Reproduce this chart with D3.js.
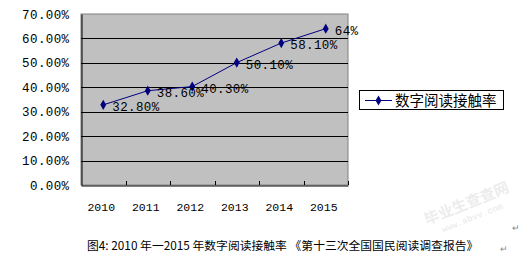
<!DOCTYPE html>
<html>
<head>
<meta charset="utf-8">
<script src="https://cdn.jsdelivr.net/npm/d3@7"></script>
<style>
  body { margin: 0; background: #fff; }
  svg { display: block; }
</style>
</head>
<body>
<svg id="chart"></svg>
<script>
// chart data
const years = ["2010", "2011", "2012", "2013", "2014", "2015"];
const rates = [32.8, 38.6, 40.3, 50.1, 58.1, 64];
const rateLabels = ["32.80%", "38.60%", "40.30%", "50.10%", "58.10%", "64%"];
const yTicks = [0, 10, 20, 30, 40, 50, 60, 70];
const seriesName = "数字阅读接触率";
const caption = "图4: 2010 年一2015 年数字阅读接触率 《第十三次全国国民阅读调查报告》";

const W = 524, H = 264;
const plot = { left: 81, top: 14, right: 348, bottom: 185 };
const mono = "'Liberation Mono', 'DejaVu Sans Mono', monospace";
const cjk = "'Noto Sans CJK SC', sans-serif";

const svg = d3.select("#chart").attr("width", W).attr("height", H);

const x = d3.scaleBand().domain(years).range([plot.left, plot.right]);
const y = d3.scaleLinear().domain([0, 70]).range([plot.bottom, plot.top]);

// plot background
svg.append("rect")
    .attr("x", plot.left).attr("y", plot.top)
    .attr("width", plot.right - plot.left).attr("height", plot.bottom - plot.top)
    .attr("fill", "#c0c0c0")
    .attr("stroke", "#808080");

// gridlines
svg.append("g")
    .selectAll("line")
    .data(yTicks.filter(d => d > 0 && d < 70))
    .enter().append("line")
    .attr("x1", plot.left).attr("x2", plot.right)
    .attr("y1", d => Math.round(y(d)) + 0.5).attr("y2", d => Math.round(y(d)) + 0.5)
    .attr("stroke", "#000");

// y axis
const yAxis = svg.append("g")
    .attr("transform", `translate(${plot.left + 0.5},0)`)
    .call(d3.axisLeft(y).tickValues(yTicks).tickSize(0).tickPadding(12)
        .tickFormat(d => d.toFixed(2) + "%"));
yAxis.select(".domain").attr("stroke", "#000");
yAxis.selectAll("text")
    .attr("font-family", mono).attr("font-size", 12.5)
    .attr("letter-spacing", 0.4)
    .attr("fill", "#000");

// x axis
const xAxis = svg.append("g")
    .attr("transform", `translate(0,${plot.bottom + 0.5})`)
    .call(d3.axisBottom(x).tickSize(0).tickPadding(17));
xAxis.select(".domain").attr("stroke", "#000");
xAxis.selectAll("text")
    .attr("font-family", mono).attr("font-size", 11.5)
    .attr("dx", -2)
    .attr("fill", "#000");

// inner tick marks between categories
svg.append("g")
    .selectAll("line")
    .data(years.slice(1).concat(["end"]))
    .enter().append("line")
    .attr("x1", (d, i) => Math.round(plot.left + x.step() * (i + 1)) + 0.5)
    .attr("x2", (d, i) => Math.round(plot.left + x.step() * (i + 1)) + 0.5)
    .attr("y1", plot.bottom).attr("y2", plot.bottom - 4)
    .attr("stroke", "#000");

// series line
const cx = (d, i) => x(years[i]) + x.bandwidth() / 2;
const line = d3.line().x(cx).y(d => y(d));
svg.append("path")
    .datum(rates)
    .attr("d", line)
    .attr("fill", "none")
    .attr("stroke", "#000080")
    .attr("stroke-width", 1);

const diamond = d3.symbol().type(d3.symbolDiamond).size(30);
svg.append("g")
    .selectAll("path")
    .data(rates)
    .enter().append("path")
    .attr("d", diamond)
    .attr("transform", (d, i) => `translate(${cx(d, i)},${y(d)})`)
    .attr("fill", "#000080");

// data labels
svg.append("g")
    .selectAll("text")
    .data(rates)
    .enter().append("text")
    .attr("x", (d, i) => cx(d, i) + 9)
    .attr("y", d => y(d) + 6)
    .attr("font-family", mono).attr("font-size", 12.5)
    .attr("letter-spacing", 0.4)
    .attr("fill", "#000")
    .text((d, i) => rateLabels[i]);

// legend
const lg = svg.append("g");
lg.append("rect")
    .attr("x", 359.5).attr("y", 90.5).attr("width", 144).attr("height", 19)
    .attr("fill", "#fff").attr("stroke", "#000");
lg.append("line")
    .attr("x1", 365).attr("x2", 392).attr("y1", 100.5).attr("y2", 100.5)
    .attr("stroke", "#000080");
lg.append("path")
    .attr("d", diamond)
    .attr("transform", "translate(378.5,100.5)")
    .attr("fill", "#000080");
lg.append("text")
    .attr("x", 395).attr("y", 106)
    .attr("font-family", cjk).attr("font-size", 14.5)
    .attr("fill", "#000")
    .text(seriesName);

// caption
svg.append("text")
    .attr("x", 87).attr("y", 250)
    .attr("font-family", cjk).attr("font-size", 11.8)
    .attr("fill", "#000")
    .text(caption);
svg.append("text")
    .attr("x", 500).attr("y", 252)
    .attr("font-family", cjk).attr("font-size", 9)
    .attr("fill", "#888")
    .text("↵");
svg.append("text")
    .attr("x", 512).attr("y", 231)
    .attr("font-family", cjk).attr("font-size", 9)
    .attr("fill", "#888")
    .text("↵");

// faint watermark
const wm = svg.append("g").attr("transform", "translate(470,212) rotate(-22)");
wm.append("text")
    .attr("text-anchor", "middle").attr("y", -4)
    .attr("font-family", cjk).attr("font-size", 15).attr("font-weight", "bold")
    .attr("fill", "#000").attr("opacity", 0.07)
    .text("毕业生查查网");
wm.append("text")
    .attr("text-anchor", "middle").attr("y", 9)
    .attr("font-family", mono).attr("font-size", 9).attr("font-weight", "bold")
    .attr("fill", "#000").attr("opacity", 0.07)
    .text("www.sbvv.com");
</script>
</body>
</html>
